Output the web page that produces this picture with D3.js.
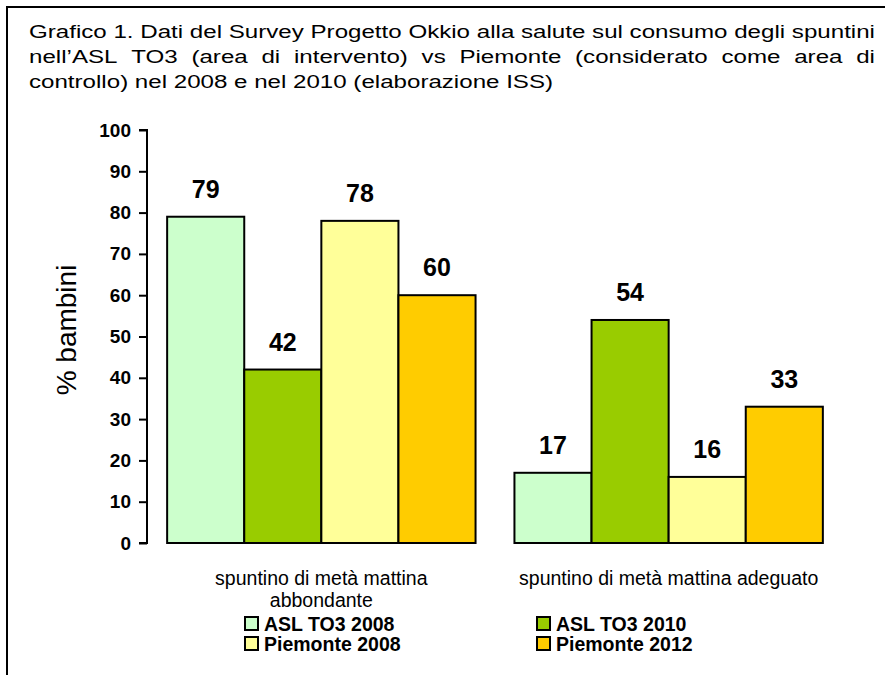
<!DOCTYPE html>
<meta charset="utf-8">
<script src="https://d3js.org/d3.v7.min.js"></script>
<style>
  body { margin: 0; background: #fff; }
  text { font-family: Arial, "Liberation Sans", sans-serif; fill: #000; }
</style>
<div id="chart"></div>
<script>
  // data
  const titleLines = [
    "Grafico 1. Dati del Survey Progetto Okkio alla salute sul consumo degli spuntini",
    "nell\u2019ASL TO3 (area di intervento) vs Piemonte (considerato come area di",
    "controllo) nel 2008 e nel 2010 (elaborazione ISS)"
  ]
  const categories = ["abbondante", "adeguato"]
  const categoryLabels = [
    ["spuntino di metà mattina", "abbondante"],
    ["spuntino di metà mattina adeguato"]
  ]
  const series = ["ASL TO3 2008", "ASL TO3 2010", "Piemonte 2008", "Piemonte 2012"]
  const colors = ["#CCFFCC", "#99CC00", "#FFFF99", "#FFCC00"]
  const asl2008 = [79, 17]
  const asl2010 = [42, 54]
  const piemonte2008 = [78, 16]
  const piemonte2012 = [60, 33]
  const yTicks = [0, 10, 20, 30, 40, 50, 60, 70, 80, 90, 100]

  const values = [asl2008, asl2010, piemonte2008, piemonte2012]
  const data = []
  categories.forEach((c, i) => {
    series.forEach((s, j) => data.push({ cat: c, series: s, value: values[j][i] }))
  })

  const width = 885, height = 675

  const svg = d3.select("#chart").append("svg")
    .attr("width", width)
    .attr("height", height)

  // frame (only top and left edges visible in the picture)
  svg.append("path")
    .attr("d", `M7,${height} L7,7 L${width},7`)
    .attr("fill", "none")
    .attr("stroke", "#000")
    .attr("stroke-width", 2)

  // title: glyphs are stretched wide in the original, first two lines justified
  const titleX0 = 29, titleX1 = 875, titleSize = "18.5px"
  const measure = s => {
    const t = svg.append("text").style("font-size", titleSize).text(s)
    const w = t.node().getComputedTextLength()
    t.remove()
    return w
  }
  const sx = (titleX1 - titleX0) / measure(titleLines[0])
  const avail = (titleX1 - titleX0) / sx
  const titleG = svg.append("g").attr("transform", `translate(${titleX0},0) scale(${sx},1)`)
  titleLines.forEach((line, i) => {
    const y = 38 + i * 25
    if (i === titleLines.length - 1) {
      titleG.append("text").attr("x", 0).attr("y", y)
        .style("font-size", titleSize).text(line)
      return
    }
    const words = line.split(" ")
    const widths = words.map(measure)
    const gap = (avail - d3.sum(widths)) / (words.length - 1)
    let x = 0
    words.forEach((w, k) => {
      titleG.append("text").attr("x", x).attr("y", y)
        .style("font-size", titleSize).text(w)
      x += widths[k] + gap
    })
  })

  // scales
  const x = d3.scaleBand()
    .domain(categories)
    .range([147, 843])
    .paddingInner(0.112)
    .paddingOuter(0.058)

  const xs = d3.scaleBand()
    .domain(series)
    .range([0, x.bandwidth()])

  const y = d3.scaleLinear()
    .domain([0, 100])
    .range([543, 130])

  // y axis
  const yAxis = svg.append("g")
    .attr("transform", "translate(147,0)")
    .call(d3.axisLeft(y).tickValues(yTicks).tickSize(8).tickPadding(8))
  yAxis.select(".domain").attr("stroke-width", 2).attr("d", `M-8,${y(100)}H0V${y(0)}H-8`)
  yAxis.selectAll(".tick line").attr("stroke-width", 2)
  yAxis.selectAll(".tick text")
    .style("font-family", "Arial, 'Liberation Sans', sans-serif")
    .style("font-size", "19px")
    .style("font-weight", "bold")
    .attr("fill", "#000")

  svg.append("text")
    .attr("transform", `translate(76,330) rotate(-90)`)
    .attr("text-anchor", "middle")
    .style("font-size", "28px")
    .text("% bambini")

  // bars
  svg.append("g")
    .selectAll("rect")
    .data(data)
    .join("rect")
      .attr("x", d => x(d.cat) + xs(d.series))
      .attr("y", d => y(d.value))
      .attr("width", xs.bandwidth())
      .attr("height", d => y(0) - y(d.value))
      .attr("fill", d => colors[series.indexOf(d.series)])
      .attr("stroke", "#000")
      .attr("stroke-width", 2)

  // value labels
  svg.append("g")
    .selectAll("text")
    .data(data)
    .join("text")
      .attr("x", d => x(d.cat) + xs(d.series) + xs.bandwidth() / 2)
      .attr("y", d => y(d.value) - 19)
      .attr("text-anchor", "middle")
      .style("font-size", "25px")
      .style("font-weight", "bold")
      .text(d => d.value)

  // category labels
  categories.forEach((c, i) => {
    const t = svg.append("text")
      .attr("text-anchor", "middle")
      .style("font-size", "19.5px")
    categoryLabels[i].forEach((line, k) => {
      t.append("tspan")
        .attr("x", x(c) + x.bandwidth() / 2)
        .attr("y", 585 + k * 22)
        .text(line)
    })
  })

  // legend
  const legendCols = [245, 537]
  const legend = svg.append("g")
    .selectAll("g")
    .data(series)
    .join("g")
      .attr("transform", (d, i) => `translate(${legendCols[i % 2]},${617 + Math.floor(i / 2) * 20})`)
  legend.append("rect")
    .attr("width", 13)
    .attr("height", 13)
    .attr("fill", (d, i) => colors[i])
    .attr("stroke", "#000")
    .attr("stroke-width", 2)
  legend.append("text")
    .attr("x", 19)
    .attr("y", 14)
    .style("font-size", "19.5px")
    .style("font-weight", "bold")
    .text(d => d)
</script>
